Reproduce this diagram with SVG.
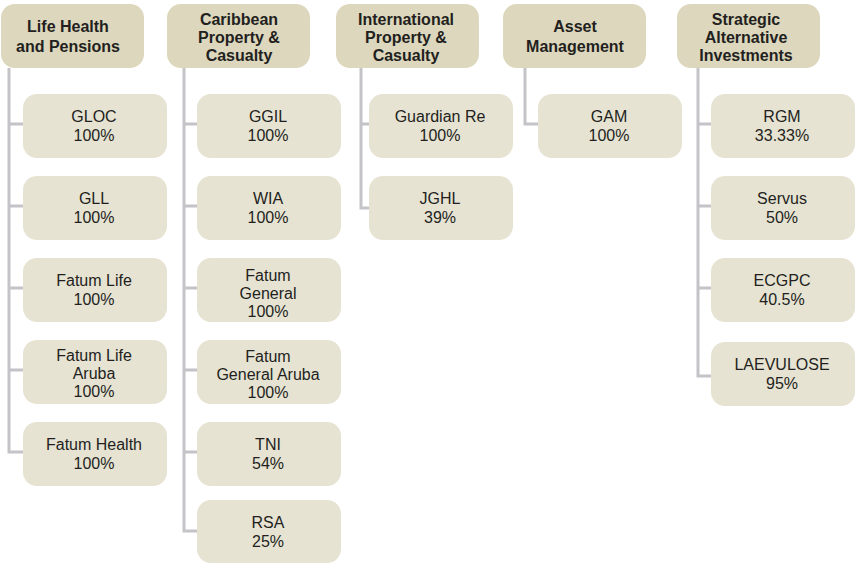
<svg xmlns="http://www.w3.org/2000/svg" width="856" height="563" viewBox="0 0 856 563">
  <style>
    .hdr rect { fill: #dcd7bd; }
    .box rect { fill: #e6e3d3; }
    text { font-family: "Liberation Sans", Arial, sans-serif; font-size: 16px; fill: #231f20; text-anchor: middle; }
    .hdr text { font-weight: bold; }
    .links path { fill: none; stroke: #c3c3c8; stroke-width: 3; stroke-linejoin: miter; }
  </style>
  <rect width="856" height="563" fill="#ffffff"/>

  <!-- connectors: one trunk per column with a branch to each child -->
  <g id="connectors" class="links">
    <path d="M9,68 V452 H23 M9,124 H23 M9,206 H23 M9,288 H23 M9,370 H23"/>
    <path d="M184,68 V531 H197 M184,124 H197 M184,206 H197 M184,288 H197 M184,370 H197 M184,452 H197"/>
    <path d="M361,68 V208 H369 M361,124 H369"/>
    <path d="M525,68 V124 H538"/>
    <path d="M698,68 V376 H711 M698,124 H711 M698,206 H711 M698,288 H711"/>
  </g>

  <!-- column headers -->
  <g id="hdr-life" class="hdr">
    <rect x="1" y="4" width="143" height="64" rx="14"/>
    <text x="68" y="32">Life Health</text>
    <text x="68" y="51.5">and Pensions</text>
  </g>
  <g id="hdr-caribbean" class="hdr">
    <rect x="167" y="4" width="143" height="64" rx="14"/>
    <text x="239" y="25">Caribbean</text>
    <text x="239" y="43">Property &amp;</text>
    <text x="239" y="61">Casualty</text>
  </g>
  <g id="hdr-international" class="hdr">
    <rect x="336" y="4" width="143" height="64" rx="14"/>
    <text x="406" y="25">International</text>
    <text x="406" y="43">Property &amp;</text>
    <text x="406" y="61">Casualty</text>
  </g>
  <g id="hdr-asset" class="hdr">
    <rect x="503" y="4" width="143" height="64" rx="14"/>
    <text x="575" y="32">Asset</text>
    <text x="575" y="51.5">Management</text>
  </g>
  <g id="hdr-strategic" class="hdr">
    <rect x="677" y="4" width="143" height="64" rx="14"/>
    <text x="746" y="25">Strategic</text>
    <text x="746" y="43">Alternative</text>
    <text x="746" y="61">Investments</text>
  </g>

  <!-- Life Health and Pensions -->
  <g id="gloc" class="box">
    <rect x="23" y="94" width="144" height="64" rx="14"/>
    <text x="94" y="122">GLOC</text>
    <text x="94" y="141">100%</text>
  </g>
  <g id="gll" class="box">
    <rect x="23" y="176" width="144" height="64" rx="14"/>
    <text x="94" y="204">GLL</text>
    <text x="94" y="223">100%</text>
  </g>
  <g id="fatum-life" class="box">
    <rect x="23" y="258" width="144" height="64" rx="14"/>
    <text x="94" y="286">Fatum Life</text>
    <text x="94" y="305">100%</text>
  </g>
  <g id="fatum-life-aruba" class="box">
    <rect x="23" y="340" width="144" height="64" rx="14"/>
    <text x="94" y="361">Fatum Life</text>
    <text x="94" y="379">Aruba</text>
    <text x="94" y="397">100%</text>
  </g>
  <g id="fatum-health" class="box">
    <rect x="23" y="422" width="144" height="64" rx="14"/>
    <text x="94" y="450">Fatum Health</text>
    <text x="94" y="469">100%</text>
  </g>

  <!-- Caribbean Property & Casualty -->
  <g id="ggil" class="box">
    <rect x="197" y="94" width="144" height="64" rx="14"/>
    <text x="268" y="122">GGIL</text>
    <text x="268" y="141">100%</text>
  </g>
  <g id="wia" class="box">
    <rect x="197" y="176" width="144" height="64" rx="14"/>
    <text x="268" y="204">WIA</text>
    <text x="268" y="223">100%</text>
  </g>
  <g id="fatum-general" class="box">
    <rect x="197" y="258" width="144" height="64" rx="14"/>
    <text x="268" y="280.5">Fatum</text>
    <text x="268" y="298.5">General</text>
    <text x="268" y="316.5">100%</text>
  </g>
  <g id="fatum-general-aruba" class="box">
    <rect x="197" y="340" width="144" height="64" rx="14"/>
    <text x="268" y="362">Fatum</text>
    <text x="268" y="380">General Aruba</text>
    <text x="268" y="398">100%</text>
  </g>
  <g id="tni" class="box">
    <rect x="197" y="422" width="144" height="64" rx="14"/>
    <text x="268" y="450">TNI</text>
    <text x="268" y="469">54%</text>
  </g>
  <g id="rsa" class="box">
    <rect x="197" y="500" width="144" height="63" rx="14"/>
    <text x="268" y="528">RSA</text>
    <text x="268" y="547">25%</text>
  </g>

  <!-- International Property & Casualty -->
  <g id="guardian-re" class="box">
    <rect x="369" y="94" width="144" height="64" rx="14"/>
    <text x="440" y="122">Guardian Re</text>
    <text x="440" y="141">100%</text>
  </g>
  <g id="jghl" class="box">
    <rect x="369" y="176" width="144" height="64" rx="14"/>
    <text x="440" y="204">JGHL</text>
    <text x="440" y="223">39%</text>
  </g>

  <!-- Asset Management -->
  <g id="gam" class="box">
    <rect x="538" y="94" width="144" height="64" rx="14"/>
    <text x="609" y="122">GAM</text>
    <text x="609" y="141">100%</text>
  </g>

  <!-- Strategic Alternative Investments -->
  <g id="rgm" class="box">
    <rect x="711" y="94" width="144" height="64" rx="14"/>
    <text x="782" y="122">RGM</text>
    <text x="782" y="141">33.33%</text>
  </g>
  <g id="servus" class="box">
    <rect x="711" y="176" width="144" height="64" rx="14"/>
    <text x="782" y="204">Servus</text>
    <text x="782" y="223">50%</text>
  </g>
  <g id="ecgpc" class="box">
    <rect x="711" y="258" width="144" height="64" rx="14"/>
    <text x="782" y="286">ECGPC</text>
    <text x="782" y="305">40.5%</text>
  </g>
  <g id="laevulose" class="box">
    <rect x="711" y="342" width="144" height="64" rx="14"/>
    <text x="782" y="370">LAEVULOSE</text>
    <text x="782" y="389">95%</text>
  </g>
</svg>
